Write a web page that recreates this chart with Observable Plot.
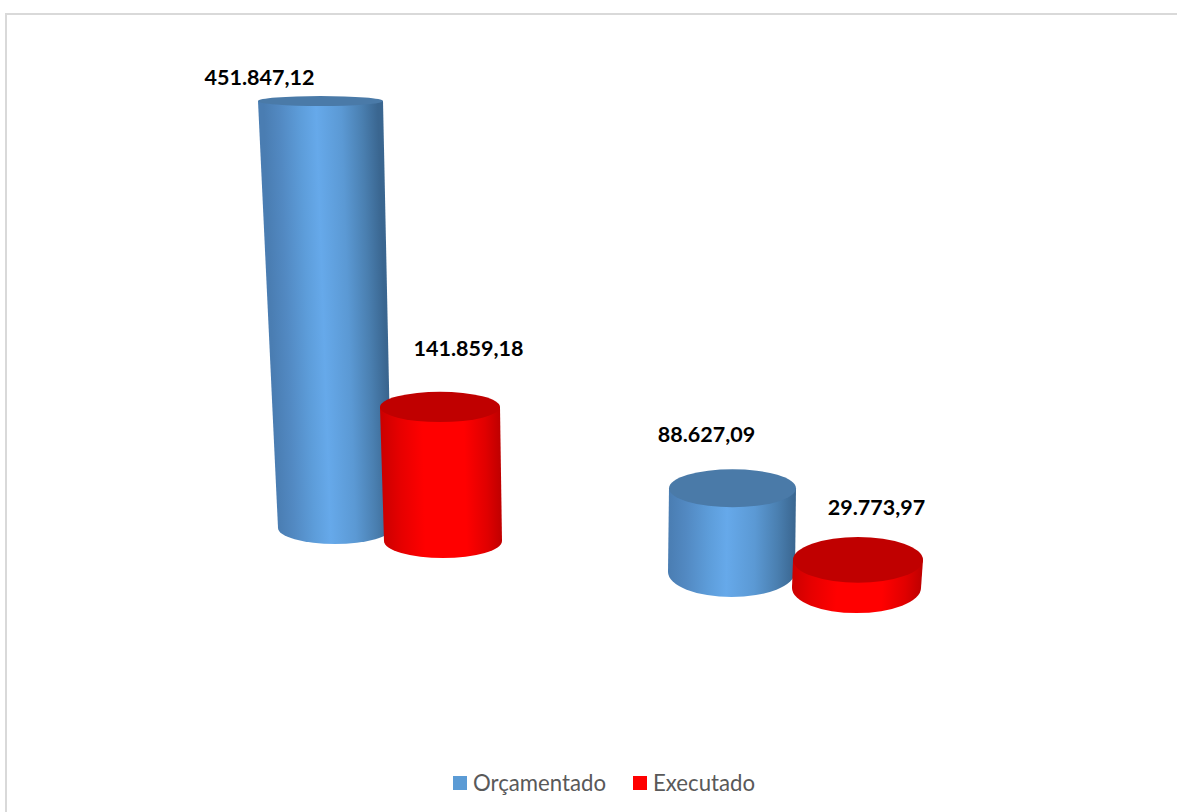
<!DOCTYPE html>
<html lang="pt-BR">
<head>
<meta charset="utf-8">
<script src="https://cdn.jsdelivr.net/npm/d3@7"></script>
<script src="https://cdn.jsdelivr.net/npm/@observablehq/plot@0.6"></script>
<style>
  html, body { margin: 0; padding: 0; background: #fff; overflow: hidden; }
  #frame { position: absolute; left: 5px; top: 13px; width: 1300px; height: 900px; border: 2px solid #d9d9d9; box-sizing: border-box; }
  #chart { position: relative; width: 1177px; }
  #chart svg { display: block; background: none; }
  #legend { position: relative; height: 44px; width: 1177px; font: 400 22.2px Lato, sans-serif; color: #595959; }
  #legend i { position: absolute; top: 8px; width: 14px; height: 14px; }
  #legend span { position: absolute; top: 1px; line-height: 28px; white-space: nowrap; }
</style>
</head>
<body>
<div id="frame"></div>
<div id="chart"></div>
<div id="legend"></div>
<script>
// ---- chart data ----
const series = ["Orçamentado", "Executado"];
const groups = [0, 1];
const orcamentado = [451847.12, 88627.09];
const executado = [141859.18, 29773.97];

// ---- series colours ----
const swatchColors = ["#5b9bd5", "#ff0000"];
const capColors = ["#4a7aa8", "#c00000"];
const bodyStops = [
  [[0, "#4a7db2"], [0.14, "#5289c2"], [0.32, "#5d9dda"], [0.46, "#66a9ea"], [0.68, "#5b99d4"], [0.86, "#4a7fb0"], [1, "#3a6690"]],
  [[0, "#cc0000"], [0.15, "#e60000"], [0.35, "#ff0000"], [0.7, "#ff0000"], [0.88, "#e00000"], [1, "#c00000"]]
];

// ---- 3D perspective of the original, per cylinder (floor in value units) ----
const floors = [253968, 240200, 207407, 190476];
const capLeft = [258, 380, 669, 793];
const capRight = [383, 500, 796, 923];
const footLeft = [278, 384, 668, 792];
const footRight = [392, 502, 795, 921];
const capDepth = [5300, 16000, 20100, 24300];
const footDepth = [16900, 18000, 26400, 26500];
const labelX = [259, 468, 706, 876];
const labelLift = [24300, 61400, 57100, 55000];

const chartHeight = 768;
const pxPerUnit = 0.000945;

const cylinders = groups.flatMap((g, i) => [
  { i: i * 2, serie: 0, value: orcamentado[g] },
  { i: i * 2 + 1, serie: 1, value: executado[g] }
]).map((d) => ({
  ...d,
  floor: floors[d.i],
  top: floors[d.i] + d.value,
  capLeft: capLeft[d.i], capRight: capRight[d.i],
  footLeft: footLeft[d.i], footRight: footRight[d.i],
  capDepth: capDepth[d.i], footDepth: footDepth[d.i],
  labelX: labelX[d.i], labelLift: labelLift[d.i]
}));

const brl = new Intl.NumberFormat("pt-BR", { minimumFractionDigits: 2, maximumFractionDigits: 2 });

// One gradient per cylinder, skewed so its bright band follows the slanted body.
function gradients(index, scales) {
  const defs = document.createElementNS("http://www.w3.org/2000/svg", "defs");
  defs.innerHTML = cylinders.map((c) => {
    const xf1 = scales.x(c.footLeft), xf2 = scales.x(c.footRight);
    const xc1 = scales.x(c.capLeft), xc2 = scales.x(c.capRight);
    const yf = scales.y(c.floor), yc = scales.y(c.top);
    const cx = (xf1 + xf2) / 2;
    const shear = (((xc1 + xc2) / 2) - cx) / (yc - yf);
    const stops = bodyStops[c.serie].map(([o, col]) => `<stop offset="${o}" stop-color="${col}"/>`).join("");
    return `<linearGradient id="body${c.i}" gradientUnits="userSpaceOnUse" x1="${xf1}" x2="${xf2}" y1="0" y2="0"
      gradientTransform="matrix(1 0 ${shear} 1 ${-shear * yf} 0)">${stops}</linearGradient>`;
  }).join("");
  return defs;
}

const cylinderMarks = cylinders.flatMap((c) => {
  const fill = `url(#body${c.i})`;
  return [
    Plot.rect([c], { x1: "footLeft", x2: "footRight", y1: (d) => d.floor - d.footDepth, y2: (d) => d.floor + d.footDepth, fill, rx: 400, ry: 400, inset: 0 }),
    Plot.area([
      { y: c.floor, x1: c.footLeft, x2: c.footRight },
      { y: c.top, x1: c.capLeft, x2: c.capRight }
    ], { x1: "x1", x2: "x2", y1: "y", y2: "y", fill }),
    Plot.rect([c], { x1: "capLeft", x2: "capRight", y1: (d) => d.top - d.capDepth, y2: (d) => d.top + d.capDepth, fill: capColors[c.serie], rx: 400, ry: 400, inset: 0 })
  ];
});

const chart = Plot.plot({
  width: 1177,
  height: chartHeight,
  margin: 0,
  style: { background: "none" },
  x: { domain: [0, 1177], range: [0, 1177], axis: null },
  y: { domain: [0, chartHeight / pxPerUnit], range: [chartHeight, 0], axis: null },
  marks: [
    gradients,
    ...cylinderMarks,
    Plot.text(cylinders, {
      x: "labelX",
      y: (d) => d.top + d.labelLift,
      text: (d) => brl.format(d.value),
      fontFamily: "Lato, sans-serif",
      fontWeight: 700,
      fontSize: 21.5,
      fill: "#000"
    })
  ]
});
document.getElementById("chart").append(chart);

const legendLayout = [[453, 473], [633, 653]];
const legend = document.getElementById("legend");
series.forEach((name, i) => {
  const sw = document.createElement("i");
  sw.style.left = legendLayout[i][0] + "px";
  sw.style.background = swatchColors[i];
  const tx = document.createElement("span");
  tx.style.left = legendLayout[i][1] + "px";
  tx.textContent = name;
  legend.append(sw, tx);
});
</script>
</body>
</html>
